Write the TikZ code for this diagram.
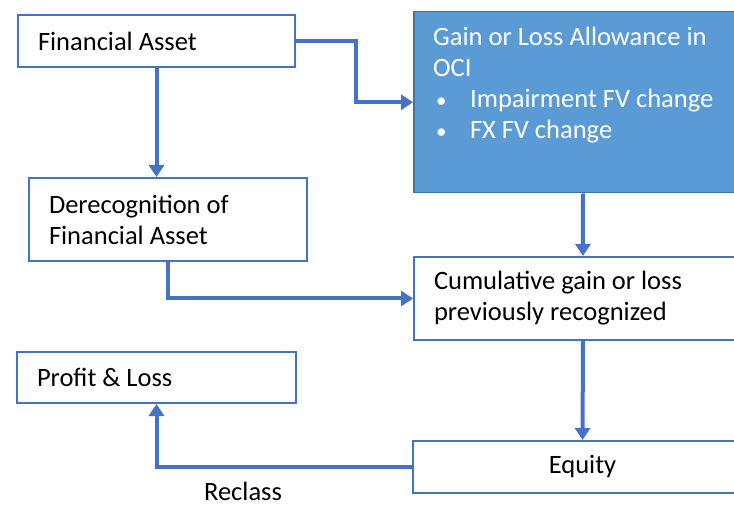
\documentclass[tikz,border=0pt]{standalone}
\usepackage{fontspec}
\setmainfont{Carlito}
\usetikzlibrary{arrows.meta}
\definecolor{cblue}{HTML}{4472C4}
\definecolor{gfill}{HTML}{5B9BD5}
\definecolor{gborder}{HTML}{41719C}
\newcommand{\gbul}{\hspace*{3pt}\makebox[34pt][l]{\fontsize{21}{31}\selectfont •}}
\begin{document}
\begin{tikzpicture}[x=1pt,y=-1pt,
  lbl/.style={font=\fontsize{26.5}{31}\selectfont},
  box/.style={draw=cblue, line width=2pt, fill=white, rectangle, inner xsep=20pt, inner ysep=0pt, align=flush left, anchor=north west, lbl},
  gbox/.style={draw=gborder, line width=1.5pt, fill=gfill, rectangle, anchor=north west, inner sep=0pt},
  conn/.style={draw=cblue, line width=4pt, -{Triangle[length=12pt,width=15pt]}}]
\useasboundingbox (0,0) rectangle (734,505);
\fill[white] (0,0) rectangle (734,505);
\node[box, text width=237pt, minimum height=52pt] (fa) at (17,14) {Financial Asset};
\node[gbox, minimum width=338pt, minimum height=181pt] (gain) at (413,11) {};
\node[lbl, text=white, anchor=north west, align=flush left, inner sep=0pt] (gaintxt) at (433,27)
  {Gain or Loss Allowance in\\OCI\\\gbul Impairment FV change\\\gbul FX FV change};
\node[box, text width=238pt, minimum height=83pt] (der) at (28,177) {Derecognition of\\Financial Asset};
\node[box, text width=298pt, minimum height=83pt] (cum) at (413,256) {Cumulative gain or loss\\previously recognized};
\node[box, text width=239pt, minimum height=51pt] (pl) at (16,351) {Profit \& Loss};
\node[box, text width=299pt, minimum height=52pt, align=flush center] (eq) at (412,440) {Equity};
\node[lbl, anchor=center, inner sep=0pt] (reclass) at (243,491) {Reclass};
\draw[conn] (fa.east) -- ++(60,0) |- (gain.west);
\draw[conn] (fa.south) -- (fa.south |- der.north);
\draw[conn] (gain.south) -- (cum.north);
\draw[conn] (der.south) |- (cum.west);
\draw[conn] (cum.south) -- (eq.north);
\draw[conn] (eq.west) -| (pl.south);
\end{tikzpicture}
\end{document}
